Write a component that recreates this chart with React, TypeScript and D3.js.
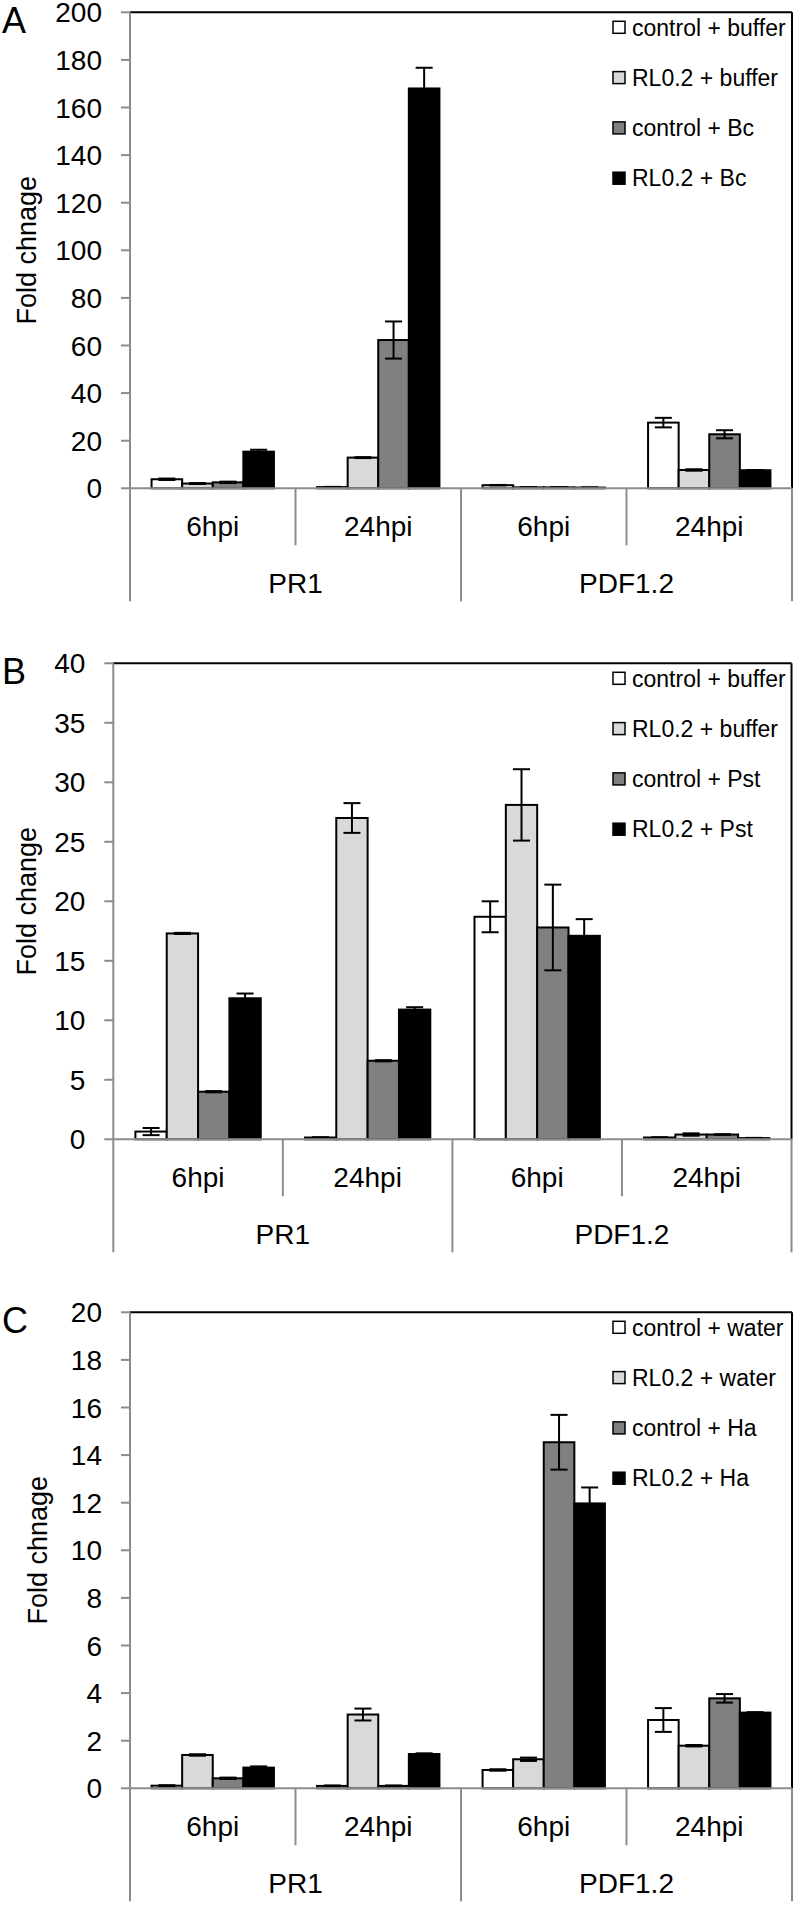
import React from "react";
import * as d3 from "d3";

// ---------- data ----------
const timePoints = ["6hpi", "24hpi", "6hpi", "24hpi"];
const genes = ["PR1", "PDF1.2"];
const seriesColors = ["#ffffff", "#d9d9d9", "#808080", "#000000"];

// Panel A
const namesA = ["control + buffer", "RL0.2 + buffer", "control + Bc", "RL0.2 + Bc"];
const valsA = [
  [3.8, 0.5, 1.3, 27.6],
  [2.0, 12.9, 0.4, 7.7],
  [2.5, 62.3, 0.4, 22.7],
  [15.4, 168, 0.3, 7.6],
];
const errsA = [
  [0.3, 0.1, 0.1, 2.0],
  [0.2, 0.2, 0.05, 0.3],
  [0.3, 7.8, 0.05, 1.7],
  [0.8, 8.7, 0.05, 0.1],
];
const ticksA = [0, 20, 40, 60, 80, 100, 120, 140, 160, 180, 200];

// Panel B
const namesB = ["control + buffer", "RL0.2 + buffer", "control + Pst", "RL0.2 + Pst"];
const valsB = [
  [0.65, 0.15, 18.7, 0.15],
  [17.3, 27.0, 28.1, 0.4],
  [4.0, 6.6, 17.8, 0.4],
  [11.85, 10.9, 17.1, 0.1],
];
const errsB = [
  [0.3, 0.02, 1.3, 0.02],
  [0.05, 1.25, 3.0, 0.1],
  [0.05, 0.05, 3.6, 0.02],
  [0.4, 0.2, 1.4, 0.02],
];
const ticksB = [0, 5, 10, 15, 20, 25, 30, 35, 40];

// Panel C
const namesC = ["control + water", "RL0.2 + water", "control + Ha", "RL0.2 + Ha"];
const valsC = [
  [0.11, 0.1, 0.77, 2.87],
  [1.4, 3.1, 1.22, 1.79],
  [0.42, 0.1, 14.54, 3.78],
  [0.87, 1.44, 11.97, 3.18],
];
const errsC = [
  [0.02, 0.02, 0.03, 0.5],
  [0.03, 0.25, 0.07, 0.03],
  [0.03, 0.02, 1.15, 0.18],
  [0.05, 0.03, 0.67, 0.02],
];
const ticksC = [0, 2, 4, 6, 8, 10, 12, 14, 16, 18, 20];

const FONT = "'Liberation Sans', Arial, Helvetica, sans-serif";
const AXIS_GRAY = "#8c8c8c";

type PanelProps = {
  letter: string;
  title: string;
  names: string[];
  vals: number[][];
  errs: number[][];
  ticks: number[];
  axisX: number;
  right: number;
  top: number;
  zero: number;
  titleX: number;
};

function Panel(p: PanelProps) {
  const { letter, title, names, vals, errs, ticks, axisX, right, top, zero, titleX } = p;
  const maxV = ticks[ticks.length - 1];
  const y = d3.scaleLinear().domain([0, maxV]).range([zero, top]);
  const gx = d3.scaleBand<number>().domain(d3.range(timePoints.length)).range([axisX, right]).padding(0);
  const sx = d3
    .scaleBand<number>()
    .domain(d3.range(names.length))
    .range([0, gx.bandwidth()])
    .paddingInner(0)
    .paddingOuter(0.705);
  const bw = sx.bandwidth();
  const cap = 17;
  const geneX = d3.scaleBand<number>().domain(d3.range(genes.length)).range([axisX, right]);
  const legendX = 613;
  const legendY0 = top + 15;
  const legendStep = 50.3;

  return (
    <g>
      {/* panel letter */}
      <text x={2} y={top + 21} fontSize={36} fontFamily={FONT} fill="#000">
        {letter}
      </text>
      {/* y title */}
      <text
        transform={`translate(${titleX},${(top + zero) / 2}) rotate(-90)`}
        textAnchor="middle"
        fontSize={27}
        fontFamily={FONT}
        fill="#000"
      >
        {title}
      </text>
      {/* y ticks and labels */}
      {ticks.map((t) => (
        <g key={t}>
          <line x1={axisX - 9} x2={axisX} y1={y(t)} y2={y(t)} stroke={AXIS_GRAY} strokeWidth={2} />
          <text
            x={axisX - 28}
            y={y(t)}
            dy="0.36em"
            textAnchor="end"
            fontSize={28}
            fontFamily={FONT}
            fill="#000"
          >
            {t}
          </text>
        </g>
      ))}
      {/* frame */}
      <line x1={axisX} x2={right} y1={top} y2={top} stroke="#000" strokeWidth={2} />
      <line x1={right} x2={right} y1={top} y2={zero} stroke="#000" strokeWidth={2} />
      {/* bars */}
      {timePoints.map((_, gi) =>
        names.map((_, si) => {
          const x0 = (gx(gi) as number) + (sx(si) as number);
          const v = vals[si][gi];
          return (
            <rect
              key={`b${gi}-${si}`}
              x={x0}
              y={y(v)}
              width={bw}
              height={zero - y(v)}
              fill={seriesColors[si]}
              stroke="#000"
              strokeWidth={2}
            />
          );
        })
      )}
      {/* error bars */}
      {timePoints.map((_, gi) =>
        names.map((_, si) => {
          const cx = (gx(gi) as number) + (sx(si) as number) + bw / 2;
          const v = vals[si][gi];
          const e = errs[si][gi];
          return (
            <g key={`e${gi}-${si}`} stroke="#000" strokeWidth={2}>
              <line x1={cx} x2={cx} y1={y(v + e)} y2={y(Math.max(0, v - e))} />
              <line x1={cx - cap / 2} x2={cx + cap / 2} y1={y(v + e)} y2={y(v + e)} />
              <line x1={cx - cap / 2} x2={cx + cap / 2} y1={y(Math.max(0, v - e))} y2={y(Math.max(0, v - e))} />
            </g>
          );
        })
      )}
      {/* y axis & x axis */}
      <line x1={axisX} x2={axisX} y1={top} y2={zero + 113} stroke={AXIS_GRAY} strokeWidth={2} />
      <line x1={axisX} x2={right} y1={zero} y2={zero} stroke={AXIS_GRAY} strokeWidth={2} />
      {/* category separators */}
      {d3.range(1, timePoints.length + 1).map((i) => {
        const xx = i === timePoints.length ? right : (gx(i) as number);
        const outer = i % 2 === 0;
        return (
          <line
            key={`s${i}`}
            x1={xx}
            x2={xx}
            y1={zero}
            y2={zero + (outer ? 113 : 57)}
            stroke={AXIS_GRAY}
            strokeWidth={2}
          />
        );
      })}
      {timePoints.map((t, gi) => (
        <text
          key={`t${gi}`}
          x={(gx(gi) as number) + gx.bandwidth() / 2}
          y={zero + 48}
          textAnchor="middle"
          fontSize={28}
          fontFamily={FONT}
          fill="#000"
        >
          {t}
        </text>
      ))}
      {genes.map((g, i) => (
        <text
          key={`g${i}`}
          x={(geneX(i) as number) + geneX.bandwidth() / 2}
          y={zero + 105}
          textAnchor="middle"
          fontSize={28}
          fontFamily={FONT}
          fill="#000"
        >
          {g}
        </text>
      ))}
      {/* legend */}
      {names.map((n, i) => {
        const cy = legendY0 + i * legendStep;
        return (
          <g key={`l${i}`}>
            <rect x={legendX} y={cy - 6} width={12} height={12} fill={seriesColors[i]} stroke="#000" strokeWidth={1.5} />
            <text x={legendX + 19} y={cy} dy="0.36em" fontSize={23} fontFamily={FONT} fill="#000">
              {n}
            </text>
          </g>
        );
      })}
    </g>
  );
}

export default function App() {
  return (
    <svg
      width={797}
      height={1905}
      viewBox="0 0 797 1905"
      style={{ position: "absolute", left: 0, top: 0, background: "#fff" }}
    >
      <rect x={0} y={0} width={797} height={1905} fill="#fff" />
      <Panel
        letter="A"
        title="Fold chnage"
        names={namesA}
        vals={valsA}
        errs={errsA}
        ticks={ticksA}
        axisX={130}
        right={792}
        top={12.3}
        zero={488.3}
        titleX={36}
      />
      <Panel
        letter="B"
        title="Fold change"
        names={namesB}
        vals={valsB}
        errs={errsB}
        ticks={ticksB}
        axisX={113.3}
        right={791.5}
        top={663.3}
        zero={1139.3}
        titleX={36}
      />
      <Panel
        letter="C"
        title="Fold chnage"
        names={namesC}
        vals={valsC}
        errs={errsC}
        ticks={ticksC}
        axisX={130}
        right={792}
        top={1312.3}
        zero={1788.3}
        titleX={47}
      />
    </svg>
  );
}
